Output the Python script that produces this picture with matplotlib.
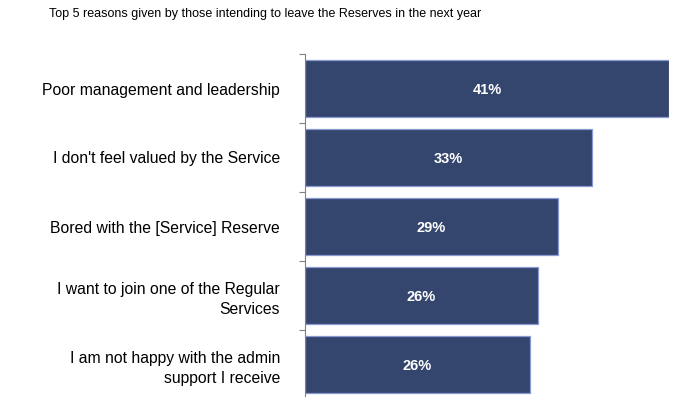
import numpy as np
import matplotlib.pyplot as plt

plt.rcParams['font.family'] = ['Liberation Sans', 'DejaVu Sans']

reasons = [
    "Poor management and leadership",
    "I don't feel valued by the Service",
    "Bored with the [Service] Reserve",
    "I want to join one of the Regular\nServices",
    "I am not happy with the admin\nsupport I receive",
]
shares = [41.4, 32.6, 28.8, 26.5, 25.6]

fig = plt.figure(figsize=(6.73, 3.97), dpi=100)
ax = fig.add_axes([305 / 673, -2 / 397, 364 / 673, 345 / 397])

y = np.arange(len(reasons))
ax.barh(y, shares, height=0.84, color="#34466e", edgecolor="#8a9ad4", linewidth=0.9)

for yi, v in zip(y, shares):
    ax.text(v / 2, yi + 0.02, f"{v:.0f}%", ha="center", va="center",
            color="white", fontsize=10.5, fontweight="bold")

ax.set_xlim(0, shares[0])
ax.set_ylim(len(reasons) - 0.5, -0.5)

# category labels sit left of the axis, right-aligned
ax.set_yticks(y)
ax.set_yticklabels(reasons, fontsize=11.3, ha="right", linespacing=1.45)
ax.tick_params(axis="y", which="major", length=0, pad=18)
ax.set_yticks(np.arange(len(reasons) + 1) - 0.5, minor=True)
ax.tick_params(axis="y", which="minor", length=4, width=0.8, color="#808080", direction="out")
ax.set_xticks([])

for side in ["top", "right", "bottom"]:
    ax.spines[side].set_visible(False)
ax.spines["left"].set_color("#808080")
ax.spines["left"].set_linewidth(0.8)

fig.text(265 / 673, 1 - 14 / 397,
         "Top 5 reasons given by those intending to leave the Reserves in the next year",
         ha="center", va="center", fontsize=9)

fig.savefig("out.png", dpi=100)
